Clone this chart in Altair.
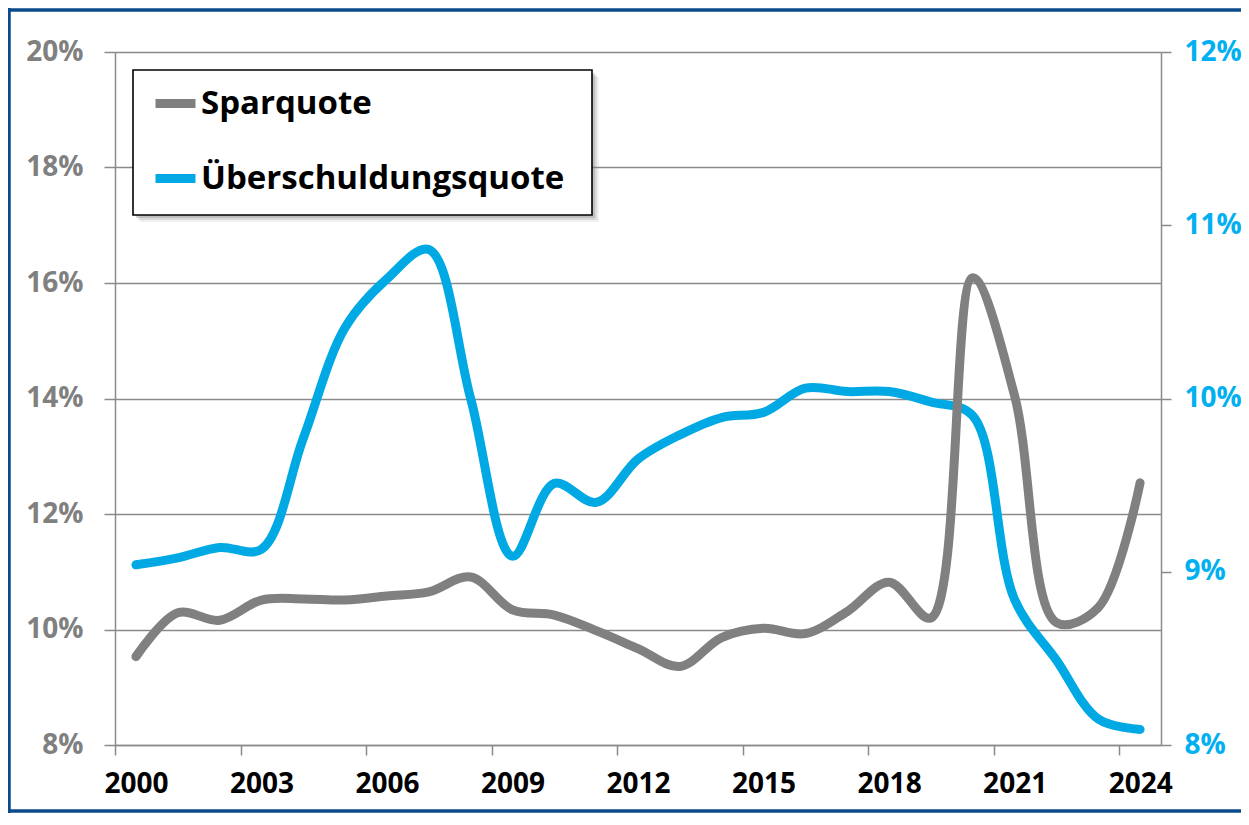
import altair as alt
import pandas as pd

# ---------------- data ----------------
years = list(range(2000, 2025))
sparquote = [9.53, 10.29, 10.16, 10.51, 10.53, 10.51, 10.58, 10.65, 10.91, 10.34,
             10.25, 9.98, 9.67, 9.36, 9.86, 10.02, 9.93, 10.31, 10.82, 10.20,
             16.09, 14.05, 10.12, 10.38, 12.54]
ueberschuldung = [9.04, 9.08, 9.14, 9.13, 9.77, 10.41, 10.69, 10.86, 10.00, 9.09,
                  9.51, 9.40, 9.65, 9.79, 9.89, 9.92, 10.06, 10.04, 10.04, 9.98,
                  9.90, 8.84, 8.49, 8.15, 8.09]
series_names = ["Sparquote", "Überschuldungsquote"]
series_colors = ["#808080", "#00A9E3"]
left_ticks = [8, 10, 12, 14, 16, 18, 20]
right_ticks = [8, 9, 10, 11, 12]
x_ticks = [2000, 2003, 2006, 2009, 2012, 2015, 2018, 2021, 2024]

FONT = "Open Sans"
AXIS_GRAY = "#8a8a8a"
FRAME_BLUE = "#0b4a8b"
LBL = 28

df_spar = pd.DataFrame({"pos": [y + 0.5 for y in years], "value": sparquote,
                        "series": series_names[0]})
df_ueb = pd.DataFrame({"pos": [y + 0.5 for y in years], "value": ueberschuldung,
                       "series": series_names[1]})

W, H = 1046, 693

x_enc = alt.X(
    "pos:Q",
    scale=alt.Scale(domain=[2000, 2025], nice=False, zero=False),
    axis=alt.Axis(values=x_ticks, format="d", title=None, labelOffset=21,
                  labelFont=FONT, labelFontWeight="bold", labelFontSize=LBL,
                  labelColor="#000000", labelPadding=15, tickSize=10,
                  tickColor=AXIS_GRAY, tickWidth=1.5, domainColor=AXIS_GRAY,
                  domainWidth=1.5, grid=False, labelFlush=False),
)

color_enc = alt.Color(
    "series:N",
    scale=alt.Scale(domain=series_names, range=series_colors),
    legend=alt.Legend(title=None, orient="none", legendX=36, legendY=27,
                      direction="vertical", symbolType="stroke",
                      symbolStrokeWidth=9, symbolSize=1600,
                      labelFont=FONT, labelFontWeight="bold", labelFontSize=33,
                      labelColor="#000000", labelOffset=1, rowPadding=32,
                      padding=0, labelLimit=600),
)

# decorations: outer frame (top, left, bottom edges), legend box and its shadow
deco = pd.DataFrame({"d": [0]})
frame_top = alt.Chart(deco).mark_rule(stroke=FRAME_BLUE, strokeWidth=3.5).encode(
    x=alt.value(-108), x2=alt.value(1150), y=alt.value(-42))
frame_left = alt.Chart(deco).mark_rule(stroke=FRAME_BLUE, strokeWidth=3.5).encode(
    x=alt.value(-106), y=alt.value(-44), y2=alt.value(761))
frame_bottom = alt.Chart(deco).mark_rule(stroke=FRAME_BLUE, strokeWidth=3.5).encode(
    x=alt.value(-108), x2=alt.value(1150), y=alt.value(759))
shadows = [
    alt.Chart(deco).mark_rect(fill="#808080", opacity=op).encode(
        x=alt.value(18 + d), x2=alt.value(477 + d), y=alt.value(18 + d), y2=alt.value(163 + d))
    for d, op in [(7, 0.12), (5, 0.2), (3, 0.3)]
]
legend_box = alt.Chart(deco).mark_rect(fill="#ffffff", stroke="#000000", strokeWidth=1.6).encode(
    x=alt.value(18), x2=alt.value(477), y=alt.value(18), y2=alt.value(163))

right_line = alt.Chart(df_ueb).mark_line(
    interpolate="catmull-rom", strokeWidth=9, strokeCap="round", strokeJoin="round"
).encode(
    x=x_enc,
    y=alt.Y("value:Q", scale=alt.Scale(domain=[8, 12], nice=False, zero=False),
            axis=alt.Axis(orient="right", values=right_ticks, title=None,
                          labelExpr="datum.value + '%'", labelFont=FONT,
                          labelFontWeight="bold", labelFontSize=LBL,
                          labelColor="#00B0F0", labelPadding=13, tickSize=10,
                          tickColor=AXIS_GRAY, tickWidth=1.5,
                          domainColor=AXIS_GRAY, domainWidth=1.5, grid=False,
                          labelFlush=False)),
    color=color_enc,
)

left_line = alt.Chart(df_spar).mark_line(
    interpolate="catmull-rom", strokeWidth=9, strokeCap="round", strokeJoin="round"
).encode(
    x=x_enc,
    y=alt.Y("value:Q", scale=alt.Scale(domain=[8, 20], nice=False, zero=False),
            axis=alt.Axis(orient="left", values=left_ticks, title=None,
                          labelExpr="datum.value + '%'", labelFont=FONT,
                          labelFontWeight="bold", labelFontSize=LBL,
                          labelColor="#808080", labelPadding=21, tickSize=11,
                          tickColor=AXIS_GRAY, tickWidth=1.5,
                          domainColor=AXIS_GRAY, domainWidth=1.5, grid=True,
                          gridColor=AXIS_GRAY, gridWidth=1.5, labelFlush=False)),
    color=color_enc,
)

chart = alt.layer(
    frame_top, frame_left, frame_bottom, *shadows, legend_box, right_line, left_line
).resolve_scale(
    y="independent"
).properties(
    width=W, height=H,
    autosize=alt.AutoSizeParams(type="none"),
    padding={"left": 107, "top": 44, "right": 80, "bottom": 68},
    background="#ffffff",
).configure_view(stroke=None)

chart.save("out.html", embed_options={"renderer": "svg", "actions": False})
